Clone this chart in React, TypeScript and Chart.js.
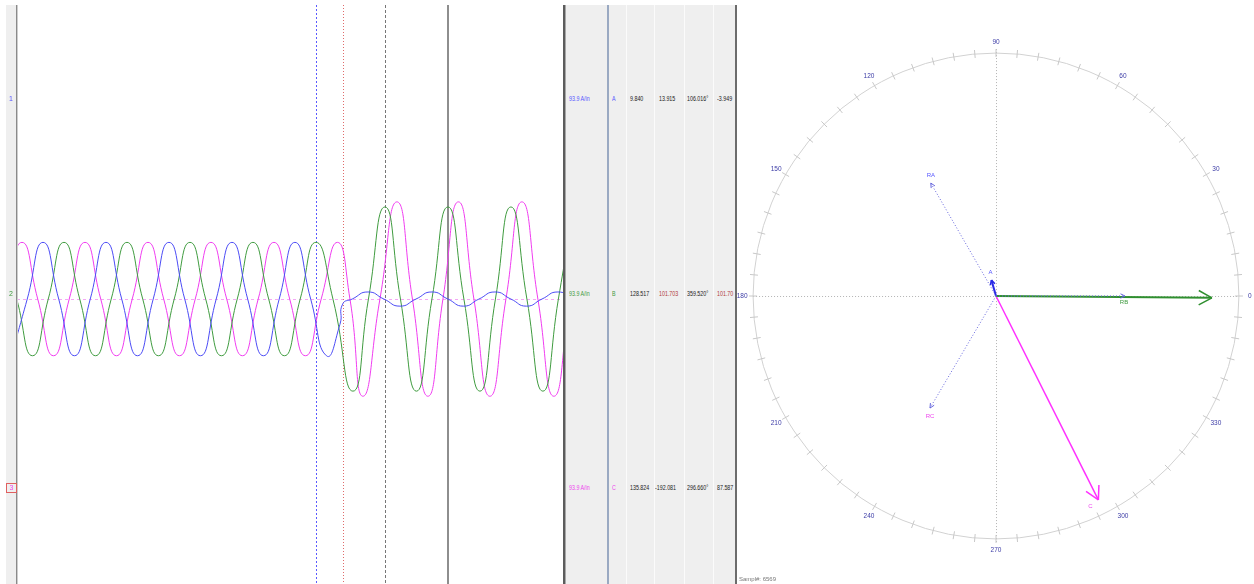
import React, { useEffect, useRef } from "react";
import { Chart, registerables } from "chart.js";

Chart.register(...registerables);

// ---------------- Waveform data (time in ms, current in A) ----------------
const phaseATimes = [-1.46, 2.71, 6.88, 11.04, 15.21, 19.38, 23.54, 27.71, 31.88, 36.04, 40.21, 44.38, 48.54, 52.71, 56.88, 61.04, 65.21, 69.38, 73.54, 77.71, 81.88, 85.45, 86.16, 88.69, 92.86, 97.09, 101.32, 105.56, 109.79, 114.02, 118.12, 122.22, 126.46, 130.69, 134.79, 138.89, 143.12, 147.35, 151.46];
const phaseAValues = [-112, 0, 112, 0, -112, 0, 112, 0, -112, 0, 112, 0, -112, 0, 112, 0, -112, 0, 112, 0, -112, -50, -10, 0, 14, 0, -14, 0, 14, 0, -14, 0, 14, 0, -14, 0, 14, 0, -14];

const phaseBTimes = [-4.23, -0.07, 4.1, 8.27, 12.43, 16.6, 20.77, 24.93, 29.1, 33.27, 37.43, 41.6, 45.77, 49.93, 54.1, 58.27, 62.43, 66.6, 70.77, 74.93, 79.1, 83.6, 88.89, 92.99, 97.35, 101.46, 105.69, 109.79, 114.02, 118.25, 122.49, 126.59, 130.69, 134.92, 139.15, 143.25, 147.35];
const phaseBValues = [112, 0, -112, 0, 112, 0, -112, 0, 112, 0, -112, 0, 112, 0, -112, 0, 112, 0, -112, 0, 112, 0, -182, 0, 182, 0, -182, 0, 182, 0, -182, 0, 182, 0, -182, 0, 182];

const phaseCTimes = [-7.01, -2.84, 1.32, 5.49, 9.66, 13.82, 17.99, 22.16, 26.32, 30.49, 34.66, 38.82, 42.99, 47.16, 51.32, 55.49, 59.66, 63.82, 67.99, 72.16, 76.32, 80.49, 84.79, 88.1, 91.53, 96.03, 100.53, 104.63, 108.73, 112.7, 116.8, 120.9, 125.13, 129.37, 133.6, 137.83, 142.06, 146.3, 150.53];
const phaseCValues = [-112, 0, 112, 0, -112, 0, 112, 0, -112, 0, 112, 0, -112, 0, 112, 0, -112, 0, 112, 0, -112, 0, 112, 0, -192, 0, 192, 0, -192, 0, 192, 0, -192, 0, 192, 0, -192, 0, 192];

const cursorTimes = [79.1, 86.24, 97.35, 114.02];

const timeMin = 0;
const timeMax = 145;
const ampMin = -563;
const ampMax = 581;

const channelLabels = ["1", "2", "3"];

// ---------------- Table data ----------------
const tableScales = ["93.9 A/in", "93.9 A/in", "93.9 A/in"];
const tablePhases = ["A", "B", "C"];
const tableRms = ["9.840", "128.517", "135.824"];
const tablePeak = ["13.915", "101.703", "-192.081"];
const tableAngle = ["106.016°", "359.520°", "296.660°"];
const tableLast = ["-3.949", "101.70", "87.587"];
const sampleText = "Sampl#: 6569";

// ---------------- Phasor data ----------------
const phasorNames = ["A", "B", "C"];
const phasorMagnitudes = [9.84, 128.517, 135.824];
const phasorAngles = [106.016, 359.52, 296.66];
const refNames = ["RA", "RB", "RC"];
const refMagnitudes = [77.6, 76.8, 77.4];
const refAngles = [120, 0, 239.5];
const ringFullScale = 144.6;
const ringLabelAngles = [0, 30, 60, 90, 120, 150, 180, 210, 240, 270, 300, 330];

// ---------------- Styles / layout ----------------
const FONT = "'Liberation Sans', Arial, sans-serif";
const phaseColors = ["#4b4bf5", "#3f9b3f", "#f03cf0"];
const textColors = ["#5656ff", "#3d9a3d", "#ee44ee"];
const cursorStyles = [
  { color: "#5a5aff", width: 1, dash: [2, 2] },
  { color: "#e06a6a", width: 1, dash: [1, 2] },
  { color: "#777777", width: 1, dash: [3, 2] },
  { color: "#8e8e8e", width: 2, dash: [] as number[] },
];
const rowY = [99, 294, 488];
const PH_CX = 259;
const PH_CY = 296;
const PH_K = 1.68;
const PH_W = 517;
const PH_H = 584;
const labelOffsets: Record<string, [number, number]> = {
  RA: [0, -8],
  RB: [-1, 6],
  RC: [0, 8],
  A: [-1, -8],
  C: [-8, 6],
};

const polar = (m: number, a: number) => ({
  x: m * Math.cos((a * Math.PI) / 180),
  y: m * Math.sin((a * Math.PI) / 180),
});

function Waveform() {
  const ref = useRef<HTMLCanvasElement>(null);
  useEffect(() => {
    const toPts = (ts: number[], vs: number[]) => ts.map((t, i) => ({ x: t, y: vs[i] }));
    const cursorPlugin = {
      id: "cursors",
      beforeDatasetsDraw(chart: any) {
        const { ctx, chartArea, scales } = chart;
        ctx.save();
        const y0 = Math.round(scales.y.getPixelForValue(0)) + 0.5;
        ctx.strokeStyle = "#f4a8f4";
        ctx.lineWidth = 1;
        ctx.setLineDash([3, 3]);
        ctx.beginPath();
        ctx.moveTo(chartArea.left, y0);
        ctx.lineTo(chartArea.right, y0);
        ctx.stroke();
        cursorTimes.forEach((t, i) => {
          const st = cursorStyles[i];
          const x = Math.round(scales.x.getPixelForValue(t)) + (st.width === 2 ? 0 : 0.5);
          ctx.strokeStyle = st.color;
          ctx.lineWidth = st.width;
          ctx.setLineDash(st.dash);
          ctx.beginPath();
          ctx.moveTo(x, chartArea.top);
          ctx.lineTo(x, chartArea.bottom);
          ctx.stroke();
        });
        ctx.restore();
      },
    };
    const series = [
      { label: "A", pts: toPts(phaseATimes, phaseAValues), color: phaseColors[0] },
      { label: "B", pts: toPts(phaseBTimes, phaseBValues), color: phaseColors[1] },
      { label: "C", pts: toPts(phaseCTimes, phaseCValues), color: phaseColors[2] },
    ];
    const chart = new Chart(ref.current as HTMLCanvasElement, {
      type: "line",
      data: {
        datasets: series.map((s) => ({
          label: s.label,
          data: s.pts,
          borderColor: s.color,
          backgroundColor: s.color,
          borderWidth: 1,
          pointRadius: 0,
          tension: 0.55,
          fill: false,
        })),
      },
      options: {
        animation: false,
        responsive: false,
        events: [],
        layout: { padding: 0 },
        plugins: { legend: { display: false }, tooltip: { enabled: false } },
        scales: {
          x: { type: "linear", min: timeMin, max: timeMax, display: false },
          y: { type: "linear", min: ampMin, max: ampMax, display: false },
        },
      },
      plugins: [cursorPlugin],
    } as any);
    return () => chart.destroy();
  }, []);
  return (
    <canvas
      ref={ref}
      width={548}
      height={579}
      style={{ position: "absolute", left: 17, top: 5, width: 548, height: 579 }}
    />
  );
}

function Phasor() {
  const ref = useRef<HTMLCanvasElement>(null);
  useEffect(() => {
    const ringPlugin = {
      id: "ring",
      beforeDatasetsDraw(chart: any) {
        const { ctx, scales } = chart;
        const cx = scales.x.getPixelForValue(0);
        const cy = scales.y.getPixelForValue(0);
        const r = scales.x.getPixelForValue(ringFullScale) - cx;
        ctx.save();
        ctx.strokeStyle = "#b4b4b4";
        ctx.lineWidth = 1;
        ctx.setLineDash([1, 2]);
        ctx.beginPath();
        ctx.moveTo(cx - r, Math.round(cy) + 0.5);
        ctx.lineTo(cx + r, Math.round(cy) + 0.5);
        ctx.moveTo(Math.round(cx) + 0.5, cy - r - 4);
        ctx.lineTo(Math.round(cx) + 0.5, cy + r + 4);
        ctx.stroke();
        ctx.setLineDash([]);
        ctx.strokeStyle = "#d2d2d2";
        ctx.beginPath();
        ctx.arc(cx, cy, r, 0, Math.PI * 2);
        ctx.stroke();
        ctx.strokeStyle = "#c8c8c8";
        ctx.beginPath();
        for (let a = 0; a < 360; a += 5) {
          const rad = (a * Math.PI) / 180;
          const c = Math.cos(rad);
          const s = Math.sin(rad);
          ctx.moveTo(cx + (r - 4) * c, cy - (r - 4) * s);
          ctx.lineTo(cx + (r + 4) * c, cy - (r + 4) * s);
        }
        ctx.stroke();
        ctx.fillStyle = "#3c3ca6";
        ctx.font = `6.5px ${FONT}`;
        ctx.textAlign = "center";
        ctx.textBaseline = "middle";
        ringLabelAngles.forEach((a) => {
          const rad = (a * Math.PI) / 180;
          ctx.fillText(String(a), cx + (r + 11) * Math.cos(rad), cy - (r + 11) * Math.sin(rad));
        });
        ctx.restore();
      },
      afterDatasetsDraw(chart: any) {
        const { ctx } = chart;
        ctx.save();
        chart.data.datasets.forEach((ds: any, i: number) => {
          const meta = chart.getDatasetMeta(i);
          const p0 = meta.data[0];
          const p1 = meta.data[1];
          if (!p0 || !p1) return;
          const ang = Math.atan2(p1.y - p0.y, p1.x - p0.x);
          ctx.strokeStyle = ds.borderColor;
          ctx.lineWidth = ds.headWidth;
          ctx.setLineDash([]);
          ctx.beginPath();
          [-1, 1].forEach((sgn) => {
            const a = ang + Math.PI + sgn * ds.headAngle;
            ctx.moveTo(p1.x, p1.y);
            ctx.lineTo(p1.x + ds.headLen * Math.cos(a), p1.y + ds.headLen * Math.sin(a));
          });
          ctx.stroke();
          if (ds.showName) {
            const off = labelOffsets[ds.label] || [0, 0];
            ctx.fillStyle = ds.nameColor;
            ctx.font = `6px ${FONT}`;
            ctx.textAlign = "center";
            ctx.textBaseline = "middle";
            ctx.fillText(ds.label, p1.x + off[0], p1.y + off[1]);
          }
        });
        ctx.restore();
      },
    };
    const refSets = refNames.map((n, i) => ({
      label: n,
      data: [{ x: 0, y: 0 }, polar(refMagnitudes[i], refAngles[i])],
      showLine: true,
      borderColor: "#6464dc",
      borderWidth: 1,
      borderDash: [1, 2],
      pointRadius: 0,
      headLen: 5,
      headAngle: 0.45,
      headWidth: 1,
      showName: true,
      nameColor: textColors[i],
    }));
    const mainStyles = [
      { color: "#2a2ae6", width: 2, headLen: 5, headWidth: 1.5, showName: true },
      { color: "#2f8f2f", width: 2, headLen: 15, headWidth: 1.5, showName: false },
      { color: "#ff30ff", width: 1.5, headLen: 15, headWidth: 1.5, showName: true },
    ];
    const mainSets = phasorNames.map((n, i) => ({
      label: n,
      data: [{ x: 0, y: 0 }, polar(phasorMagnitudes[i], phasorAngles[i])],
      showLine: true,
      borderColor: mainStyles[i].color,
      borderWidth: mainStyles[i].width,
      pointRadius: 0,
      headLen: mainStyles[i].headLen,
      headAngle: 0.5,
      headWidth: mainStyles[i].headWidth,
      showName: mainStyles[i].showName,
      nameColor: textColors[i],
    }));
    const chart = new Chart(ref.current as HTMLCanvasElement, {
      type: "scatter",
      data: { datasets: [...refSets, ...mainSets] },
      options: {
        animation: false,
        responsive: false,
        events: [],
        layout: { padding: 0 },
        plugins: { legend: { display: false }, tooltip: { enabled: false } },
        scales: {
          x: { type: "linear", min: -PH_CX / PH_K, max: (PH_W - PH_CX) / PH_K, display: false },
          y: { type: "linear", min: -(PH_H - PH_CY) / PH_K, max: PH_CY / PH_K, display: false },
        },
      },
      plugins: [ringPlugin],
    } as any);
    return () => chart.destroy();
  }, []);
  return (
    <canvas
      ref={ref}
      width={PH_W}
      height={PH_H}
      style={{ position: "absolute", left: 737, top: 0, width: PH_W, height: PH_H }}
    />
  );
}

function Table() {
  const cell = (text: string, left: number, y: number, color: string, key: string) => (
    <div
      key={key}
      style={{
        position: "absolute",
        left,
        top: y - 5,
        height: 10,
        lineHeight: "10px",
        fontSize: 7,
        color,
        whiteSpace: "nowrap",
        fontFamily: FONT,
        transform: "scaleX(0.76)",
        transformOrigin: "0 50%",
      }}
    >
      {text}
    </div>
  );
  const redIdx = (i: number) => i === 1;
  return (
    <>
      <div style={{ position: "absolute", left: 564, top: 5, width: 173, height: 579, background: "#efefef" }} />
      <div style={{ position: "absolute", left: 563, top: 5, width: 2, height: 579, background: "#5c5c5c" }} />
      <div style={{ position: "absolute", left: 565, top: 5, width: 1, height: 579, background: "#a8a8a8" }} />
      <div style={{ position: "absolute", left: 607, top: 5, width: 2, height: 579, background: "#9aa9c2" }} />
      {[626, 654, 684, 713].map((x) => (
        <div key={x} style={{ position: "absolute", left: x, top: 5, width: 1, height: 579, background: "#fbfbfb" }} />
      ))}
      <div style={{ position: "absolute", left: 735, top: 5, width: 2, height: 579, background: "#6c6c6c" }} />
      {tablePhases.map((p, i) => (
        <React.Fragment key={p}>
          {cell(tableScales[i], 569, rowY[i], textColors[i], "s" + i)}
          {cell(p, 612, rowY[i], textColors[i], "p" + i)}
          {cell(tableRms[i], 630, rowY[i], "#222", "r" + i)}
          {cell(tablePeak[i], tablePeak[i].startsWith("-") ? 655 : 659, rowY[i], redIdx(i) ? "#b03a3a" : "#222", "k" + i)}
          {cell(tableAngle[i], 687, rowY[i], "#222", "a" + i)}
          {cell(tableLast[i], 717, rowY[i], redIdx(i) ? "#b03a3a" : "#222", "l" + i)}
        </React.Fragment>
      ))}
    </>
  );
}

export default function App() {
  return (
    <div
      style={{
        position: "fixed",
        left: 0,
        top: 0,
        width: 1254,
        height: 584,
        background: "#ffffff",
        overflow: "hidden",
        fontFamily: FONT,
      }}
    >
      <div style={{ position: "absolute", left: 6, top: 5, width: 10, height: 579, background: "#efefef" }} />
      <Waveform />
      <div style={{ position: "absolute", left: 16, top: 5, width: 1, height: 579, background: "#8a8a8a" }} />
      <div style={{ position: "absolute", left: 17, top: 5, width: 1, height: 579, background: "#cdcdcd" }} />
      {channelLabels.map((c, i) => (
        <div
          key={c}
          style={{
            position: "absolute",
            left: i === 2 ? 6 : 8,
            top: rowY[i] - 5,
            width: i === 2 ? 9 : 6,
            height: i === 2 ? 8 : 10,
            lineHeight: i === 2 ? "8px" : "10px",
            fontSize: 7,
            textAlign: "center",
            color: textColors[i],
            border: i === 2 ? "1px solid #e06060" : "none",
          }}
        >
          {c}
        </div>
      ))}
      <Table />
      <Phasor />
      <div
        style={{
          position: "absolute",
          left: 739,
          top: 575,
          fontSize: 6,
          lineHeight: "8px",
          color: "#777",
          whiteSpace: "nowrap",
        }}
      >
        {sampleText}
      </div>
    </div>
  );
}
